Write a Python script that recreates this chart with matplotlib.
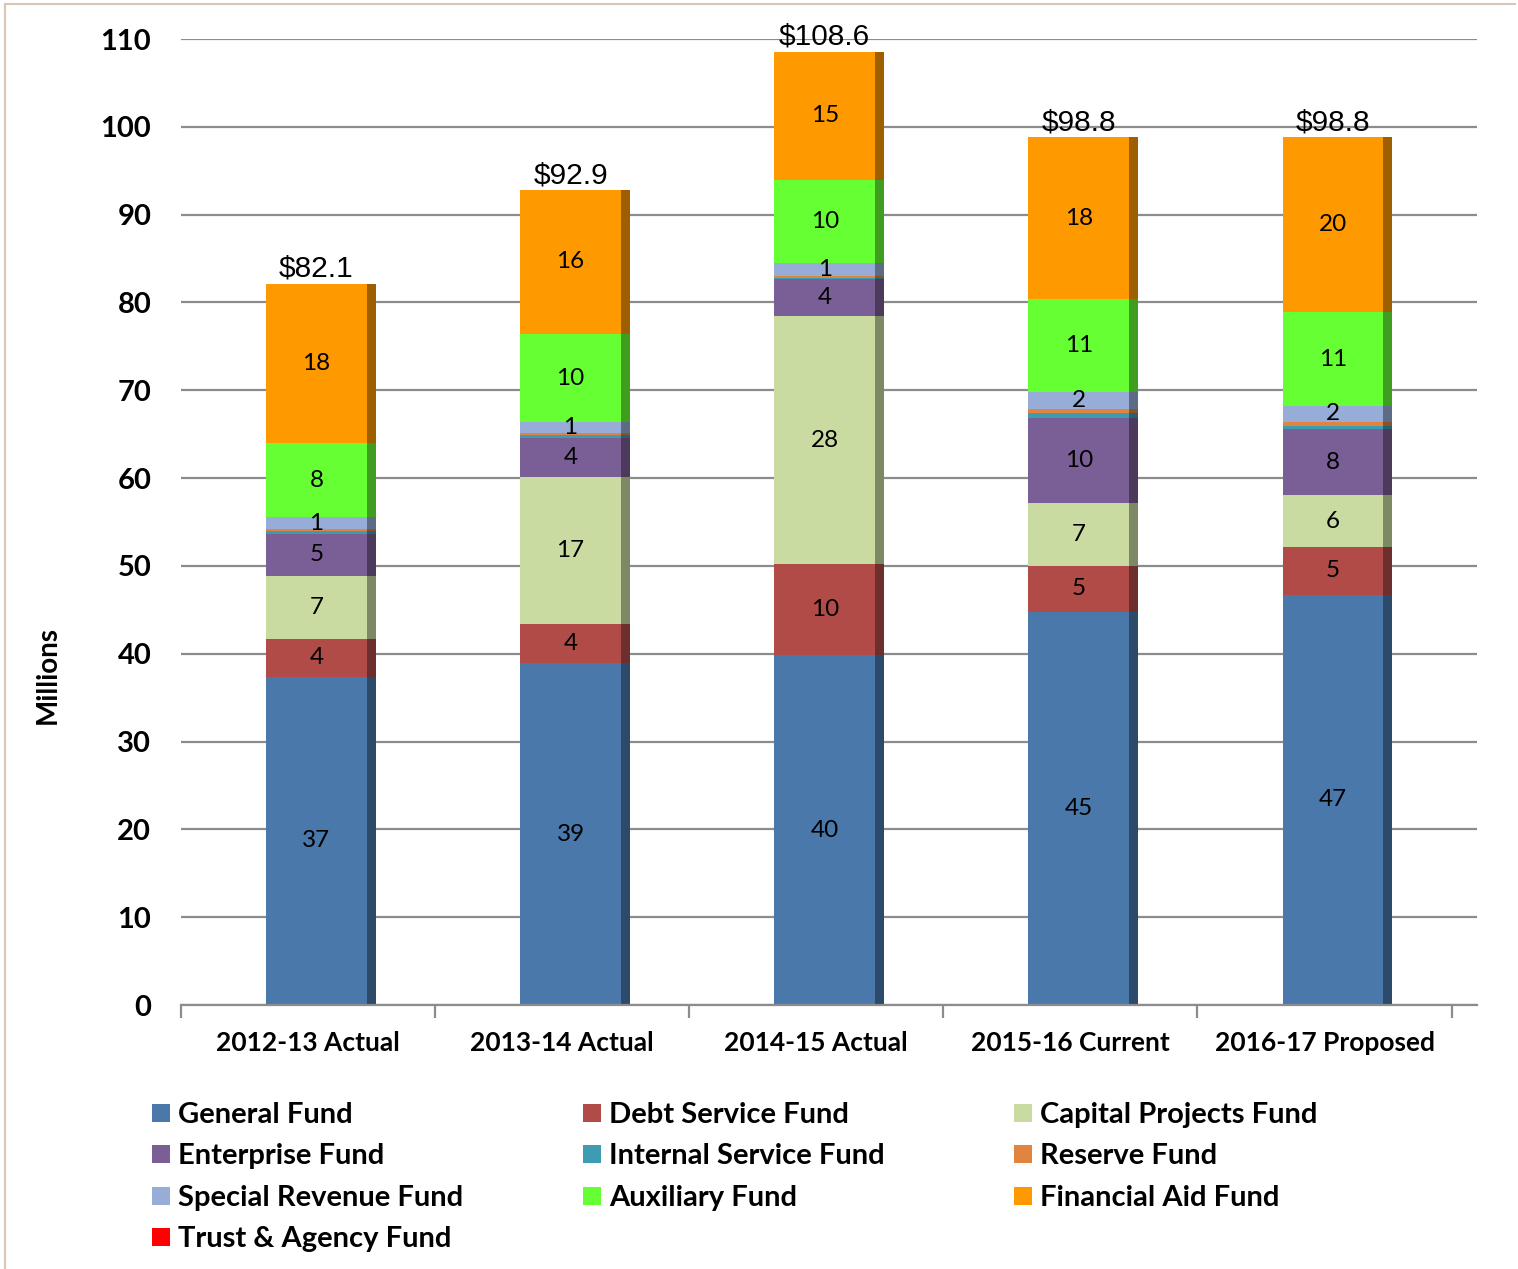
import matplotlib
matplotlib.use("Agg")
import matplotlib.pyplot as plt
import numpy as np
from matplotlib.patches import Rectangle
from matplotlib.lines import Line2D
import matplotlib.colors as mcolors

categories = ["2012-13 Actual", "2013-14 Actual", "2014-15 Actual", "2015-16 Current", "2016-17 Proposed"]
fund_names = ["General Fund", "Debt Service Fund", "Capital Projects Fund",
              "Enterprise Fund", "Internal Service Fund", "Reserve Fund",
              "Special Revenue Fund", "Auxiliary Fund", "Financial Aid Fund",
              "Trust & Agency Fund"]
general = [37.35, 38.94, 39.85, 44.75, 46.70]
debt = [4.35, 4.45, 10.35, 5.25, 5.45]
capital = [7.15, 16.75, 28.25, 7.15, 5.90]
enterprise = [4.80, 4.45, 4.20, 9.70, 7.55]
internal = [0.35, 0.35, 0.15, 0.55, 0.35]
reserve = [0.15, 0.25, 0.20, 0.45, 0.45]
special = [1.40, 1.15, 1.45, 1.95, 1.80]
auxiliary = [8.40, 10.10, 9.55, 10.60, 10.70]
financial = [18.15, 16.36, 14.55, 18.40, 19.90]
trust = [0.0, 0.0, 0.0, 0.0, 0.0]
totals = ["$82.1", "$92.9", "$108.6", "$98.8", "$98.8"]
yticks = [0, 10, 20, 30, 40, 50, 60, 70, 80, 90, 100, 110]

series = [general, debt, capital, enterprise, internal, reserve, special,
          auxiliary, financial, trust]
colors = ["#4a78ab", "#b04b48", "#cadba2", "#7a5e96", "#3d9cb2", "#e0843f",
          "#97acd6", "#66ff33", "#ff9900", "#ff0000"]
labeled = [True, True, True, True, False, False, True, True, True, False]

W, H = 1518, 1269
fig = plt.figure(figsize=(W / 100, H / 100), dpi=100)
ax = fig.add_axes([181 / W, 1 - 1005 / H, (1477 - 181) / W, (1005 - 39) / H])
ax.set_xlim(-0.5, 4.6)
ax.set_ylim(0, 110)

grid_col = "#8c8c8c"
ax.set_yticks(yticks)
ax.yaxis.grid(True, color=grid_col, lw=1.6)
ax.set_axisbelow(True)
for s in ["left", "right", "top"]:
    ax.spines[s].set_visible(False)
ax.spines["bottom"].set_color(grid_col)
ax.spines["bottom"].set_linewidth(1.6)

x = np.arange(len(categories))
front_off, front_w = 0.033, 0.396
side_left, side_w = front_off + front_w / 2, 0.035

bottom = np.zeros(len(categories))
for vals, col, lab in zip(series, colors, labeled):
    vals = np.array(vals)
    dark = tuple(c * 0.62 for c in mcolors.to_rgb(col))
    ax.bar(x + front_off, vals, width=front_w, bottom=bottom, color=col, lw=0, zorder=2)
    ax.bar(x + side_left, vals, width=side_w, bottom=bottom, color=dark, lw=0,
           align="edge", zorder=2)
    if lab:
        for xi, v, b in zip(x, vals, bottom):
            ax.text(xi + front_off, b + v / 2, f"{int(round(v))}", ha="center",
                    va="center", fontsize=17.5, family="Lato", color="black", zorder=3)
    bottom = bottom + vals

for xi, t, tot in zip(x, totals, bottom):
    ax.text(xi + front_off, tot + 0.8, t, ha="center", va="baseline",
            fontsize=21.5, family="Liberation Sans", color="black", zorder=3)

ax.set_xticks(x)
ax.set_xticklabels(categories, fontsize=19, family="Lato", fontweight="bold")
ax.set_xticks(np.arange(-0.5, 5.0, 1.0), minor=True)
ax.tick_params(axis="x", which="major", length=0, pad=19)
ax.tick_params(axis="x", which="minor", length=9, width=1.6, color=grid_col, direction="out")
ax.tick_params(axis="y", length=0, pad=21.5)
for lbl in ax.get_yticklabels():
    lbl.set_fontsize(21)
    lbl.set_family("Lato")
    lbl.set_fontweight("bold")

fig.text(48 / W, 1 - 675 / H, "Millions", rotation=90, ha="center", va="center",
         fontsize=20, family="Lato", fontweight="bold")

# legend (row-major order, 3 columns)
col_x = [152, 583, 1014]
row_y = [1113, 1154, 1196, 1237]
for i, (name, col) in enumerate(zip(fund_names, colors)):
    r, c = divmod(i, 3)
    px, py = col_x[c], row_y[r]
    fig.patches.append(Rectangle((px / W, 1 - (py + 9) / H), 18 / W, 18 / H,
                                 transform=fig.transFigure, color=col, lw=0))
    fig.text((px + 26) / W, 1 - (py + 2) / H, name, ha="left", va="center",
             fontsize=21, family="Lato", fontweight="bold")

# border
border_col = "#d8c6b6"
fig.add_artist(Line2D([5 / W, 5 / W], [0, 1 - 4 / H], transform=fig.transFigure,
                      color=border_col, lw=1.5))
fig.add_artist(Line2D([5 / W, 1515 / W], [1 - 4 / H, 1 - 4 / H], transform=fig.transFigure,
                      color=border_col, lw=1.5))

fig.savefig("out.png", dpi=100)
